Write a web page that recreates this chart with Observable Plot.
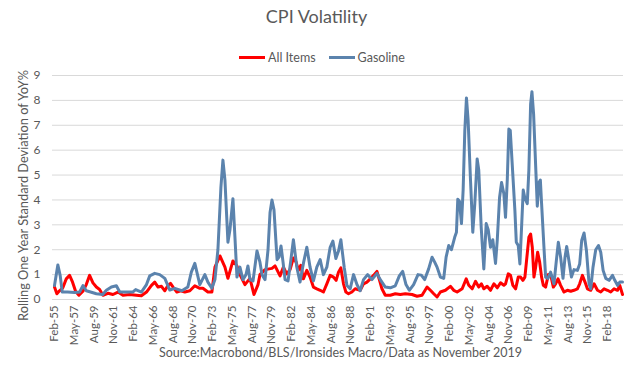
<!DOCTYPE html>
<html>
<head>
<meta charset="utf-8">
<script src="https://cdn.jsdelivr.net/npm/d3@7"></script>
<script src="https://cdn.jsdelivr.net/npm/@observablehq/plot@0.6"></script>
<style>
  body { margin: 0; background: #fff; font-family: Lato, "Open Sans", sans-serif; color: #595959; }
  #wrap { position: relative; width: 633px; height: 368px; overflow: hidden; background: #fff; }
  #title { position: absolute; top: 5px; left: 0; width: 633px; text-align: center; font-size: 18px; }
  #legend { position: absolute; top: 50px; left: 239px; font-size: 12.5px; white-space: nowrap; }
  #legend span.item { display: inline-block; margin-right: 13px; }
  #legend i { display: inline-block; width: 26px; height: 3px; vertical-align: middle; margin-right: 3px; position: relative; top: -1px; }
  #chart { position: absolute; top: 65px; left: 0; }
  #caption { position: absolute; top: 345px; left: 24px; width: 633px; text-align: center; font-size: 12.5px; }
</style>
</head>
<body>
<div id="wrap">
  <div id="title"></div>
  <div id="legend"></div>
  <div id="chart"></div>
  <div id="caption"></div>
</div>
<script>
const titleText = "CPI Volatility";
const captionText = "Source:Macrobond/BLS/Ironsides Macro/Data as November 2019";
const yLabel = "Rolling One Year Standard Deviation of YoY%";
const seriesNames = ["All Items", "Gasoline"];
const seriesColors = ["#ff0000", "#5b83ad"];
const yTicks = [0, 1, 2, 3, 4, 5, 6, 7, 8, 9];
const tickLabels = ["Feb-55","May-57","Aug-59","Nov-61","Feb-64","May-66","Aug-68","Nov-70","Feb-73","May-75","Aug-77","Nov-79","Feb-82","May-84","Aug-86","Nov-88","Feb-91","May-93","Aug-95","Nov-97","Feb-00","May-02","Aug-04","Nov-06","Feb-09","May-11","Aug-13","Nov-15","Feb-18"];

// All Items (decimal years, values)
const allYears = [1955.08,1955.35,1955.65,1956.03,1956.42,1956.80,1957.10,1957.48,1957.86,1958.32,1958.70,1959.08,1959.46,1959.85,1960.22,1960.60,1961.17,1961.74,1962.31,1962.88,1963.65,1964.41,1964.98,1965.56,1966.13,1966.50,1966.88,1967.27,1967.65,1968.02,1968.30,1968.59,1969.02,1969.47,1969.93,1970.50,1971.07,1971.64,1971.99,1972.56,1973.01,1973.36,1973.93,1974.50,1974.84,1975.41,1975.87,1976.21,1976.78,1977.35,1977.81,1978.27,1978.49,1979.07,1979.86,1980.21,1980.78,1981.16,1981.54,1981.92,1982.30,1982.61,1982.87,1983.14,1983.44,1983.83,1984.20,1984.58,1984.97,1985.35,1985.72,1986.11,1986.49,1986.87,1987.17,1987.44,1987.71,1988.01,1988.28,1988.58,1988.97,1989.34,1989.91,1990.29,1990.68,1991.06,1991.43,1991.82,1992.12,1992.39,1992.77,1993.34,1993.91,1994.48,1995.05,1995.82,1996.39,1996.96,1997.53,1997.91,1998.29,1998.67,1999.05,1999.62,2000.19,2000.57,2000.96,2001.53,2001.99,2002.28,2002.67,2003.05,2003.42,2003.73,2004.00,2004.38,2004.76,2005.14,2005.53,2005.90,2006.28,2006.47,2006.78,2007.04,2007.31,2007.62,2007.92,2008.19,2008.45,2008.68,2008.87,2009.13,2009.33,2009.52,2009.71,2009.90,2010.13,2010.36,2010.58,2010.78,2011.04,2011.35,2011.61,2011.92,2012.18,2012.45,2012.75,2013.13,2013.52,2013.90,2014.27,2014.66,2014.92,2015.23,2015.53,2015.80,2016.18,2016.56,2016.95,2017.32,2017.70,2018.09,2018.46,2018.84,2019.23,2019.49,2019.80];
const allValues = [0.5,0.23,0.35,0.47,0.83,0.97,0.73,0.33,0.17,0.33,0.6,0.97,0.67,0.5,0.4,0.17,0.25,0.2,0.3,0.17,0.2,0.17,0.15,0.3,0.57,0.7,0.5,0.53,0.35,0.57,0.65,0.5,0.3,0.35,0.3,0.35,0.55,0.45,0.45,0.3,0.3,1.3,1.75,1.3,0.85,1.55,1.35,1.0,0.6,0.85,0.2,0.6,1.0,1.2,1.25,1.35,0.95,1.3,1.03,1.2,1.67,1.5,1.17,1.37,0.83,1.17,0.9,0.5,0.43,0.37,0.3,0.63,0.97,0.9,0.77,1.1,1.27,0.63,0.3,0.23,0.3,0.43,0.37,0.63,0.7,0.83,0.97,1.13,0.77,0.43,0.17,0.17,0.23,0.2,0.23,0.2,0.13,0.17,0.5,0.37,0.23,0.1,0.3,0.37,0.53,0.37,0.3,0.43,0.83,0.57,0.43,0.73,0.5,0.63,0.43,0.53,0.37,0.63,0.47,0.67,0.57,0.63,1.03,0.97,0.57,0.43,0.9,0.9,0.77,0.9,1.57,2.5,2.63,2.1,0.9,1.3,1.9,1.5,0.9,0.57,0.5,1.0,1.0,0.5,0.63,0.83,0.57,0.3,0.37,0.33,0.37,0.43,0.63,0.97,0.7,0.43,0.37,0.63,0.37,0.3,0.43,0.37,0.3,0.43,0.37,0.57,0.2];

// Gasoline (decimal years, values)
const gasYears = [1955.08,1955.46,1955.73,1955.96,1956.57,1957.37,1957.94,1958.32,1958.70,1959.19,1959.85,1960.57,1960.99,1961.56,1962.13,1962.51,1963.27,1963.99,1964.33,1964.98,1965.56,1965.93,1966.50,1967.07,1967.65,1968.22,1968.79,1969.59,1970.27,1970.67,1971.07,1971.64,1972.21,1972.56,1973.01,1973.36,1973.70,1974.04,1974.27,1974.50,1974.84,1975.07,1975.41,1975.64,1975.87,1976.21,1976.55,1976.90,1977.12,1977.35,1977.70,1978.15,1978.49,1978.72,1979.07,1979.41,1979.64,1979.86,1980.09,1980.44,1980.66,1980.89,1981.12,1981.35,1981.69,1981.98,1982.30,1982.69,1983.06,1983.44,1983.83,1984.20,1984.58,1984.97,1985.35,1985.72,1986.11,1986.49,1986.80,1987.14,1987.44,1987.71,1988.09,1988.40,1988.77,1989.15,1989.54,1989.91,1990.29,1990.75,1991.25,1991.82,1992.20,1992.77,1993.34,1993.91,1994.37,1994.75,1995.13,1995.51,1996.00,1996.50,1996.88,1997.26,1997.71,1998.10,1998.40,1998.67,1999.05,1999.43,1999.70,2000.00,2000.31,2000.68,2000.88,2001.03,2001.22,2001.45,2001.64,2001.83,2002.02,2002.21,2002.48,2002.74,2002.97,2003.24,2003.42,2003.70,2004.00,2004.27,2004.50,2004.76,2005.02,2005.33,2005.53,2005.79,2006.02,2006.28,2006.47,2006.67,2006.85,2007.01,2007.24,2007.54,2007.70,2007.92,2008.11,2008.30,2008.49,2008.68,2008.95,2009.13,2009.33,2009.48,2009.67,2009.90,2010.09,2010.28,2010.44,2010.58,2010.85,2011.04,2011.30,2011.61,2011.99,2012.26,2012.49,2012.75,2013.02,2013.25,2013.44,2013.70,2013.98,2014.27,2014.66,2014.92,2015.15,2015.42,2015.69,2015.99,2016.18,2016.44,2016.75,2017.06,2017.32,2017.59,2017.89,2018.27,2018.66,2018.92,2019.23,2019.49,2019.80];
const gasValues = [0.56,1.39,0.96,0.3,0.3,0.28,0.3,0.56,0.35,0.3,0.23,0.2,0.37,0.5,0.55,0.3,0.3,0.3,0.4,0.3,0.6,0.95,1.05,1.0,0.85,0.38,0.45,0.35,0.5,1.1,1.45,0.6,1.0,0.7,0.45,0.8,2.0,4.5,5.6,4.8,2.3,2.8,4.05,2.5,0.9,1.3,0.8,1.0,1.35,0.8,0.75,1.95,1.5,1.0,0.8,2.0,3.5,4.0,3.6,1.6,1.7,2.15,1.5,0.8,0.75,1.5,2.4,1.3,0.7,1.45,2.1,1.3,0.75,1.3,1.6,1.0,1.3,2.1,2.35,1.65,1.95,2.4,1.3,0.56,0.43,1.0,0.6,0.35,0.8,1.0,0.8,1.05,0.8,0.5,0.47,0.55,0.95,1.13,0.6,0.37,0.6,1.0,0.98,0.8,1.23,1.7,1.5,1.3,0.9,0.85,1.7,2.17,2.0,2.5,2.7,4.03,3.95,3.05,4.4,6.77,8.1,7.2,4.8,2.7,3.85,5.65,5.2,2.9,1.23,3.05,2.8,2.1,2.4,1.45,2.4,4.1,4.7,4.25,3.3,4.8,6.85,6.8,5.4,3.57,2.3,2.17,1.43,2.9,4.4,4.07,3.85,5.2,7.85,8.35,7.45,5.4,3.75,4.7,4.8,3.85,2.1,0.9,0.85,1.1,0.63,1.55,2.3,1.7,0.85,1.7,2.13,1.55,0.9,1.2,1.17,1.43,2.37,2.67,1.97,0.63,0.43,1.3,2.0,2.17,1.9,1.17,0.85,0.77,0.97,0.77,0.57,0.7,0.7];

function yToDate(y) {
  const yr = Math.floor(y);
  return new Date(Date.UTC(yr, 0, 1) + (y - yr) * 365.25 * 864e5);
}
const monthNames = ["Jan","Feb","Mar","Apr","May","Jun","Jul","Aug","Sep","Oct","Nov","Dec"];
function labelToDate(s) {
  const [m, yy] = s.split("-");
  const n = +yy;
  return new Date(Date.UTC(n >= 50 ? 1900 + n : 2000 + n, monthNames.indexOf(m), 1));
}
const tickDates = tickLabels.map(labelToDate);
const labelMap = new Map(tickDates.map((d, i) => [+d, tickLabels[i]]));

const allData = allYears.map((y, i) => ({date: yToDate(y), value: allValues[i]}));
const gasData = gasYears.map((y, i) => ({date: yToDate(y), value: gasValues[i]}));

document.getElementById("title").textContent = titleText;
document.getElementById("caption").textContent = captionText;
document.getElementById("legend").innerHTML = seriesNames.map((n, i) =>
  `<span class="item"><i style="background:${seriesColors[i]}"></i>${n}</span>`).join("");

const chart = Plot.plot({
  width: 633,
  height: 279,
  marginTop: 10,
  marginBottom: 45,
  marginLeft: 52,
  marginRight: 10,
  style: {fontFamily: "Lato, 'Open Sans', sans-serif", color: "#595959", background: "transparent", overflow: "visible"},
  x: {type: "utc", domain: [yToDate(allYears[0]), yToDate(allYears[allYears.length - 1])], insetLeft: 2, insetRight: 1},
  y: {domain: [0, 9]},
  marks: [
    Plot.gridY(yTicks, {stroke: "#d9d9d9", strokeOpacity: 1, strokeWidth: 1}),
    Plot.axisY(yTicks, {tickSize: 0, tickPadding: 12, fontSize: 12, label: null}),
    Plot.axisX(tickDates, {tickSize: 0, tickPadding: 6, tickRotate: -90, fontSize: 11.5, label: null, tickFormat: d => labelMap.get(+d)}),
    Plot.text([yLabel], {frameAnchor: "left", textAnchor: "middle", text: d => d, rotate: -90, dx: -29, dy: 8, fontSize: 12.8, fill: "#595959"}),
    Plot.line(allData, {x: "date", y: "value", stroke: seriesColors[0], strokeWidth: 3, strokeLinejoin: "round"}),
    Plot.line(gasData, {x: "date", y: "value", stroke: seriesColors[1], strokeWidth: 3, strokeLinejoin: "round"})
  ]
});
document.getElementById("chart").appendChild(chart);
</script>
</body>
</html>
